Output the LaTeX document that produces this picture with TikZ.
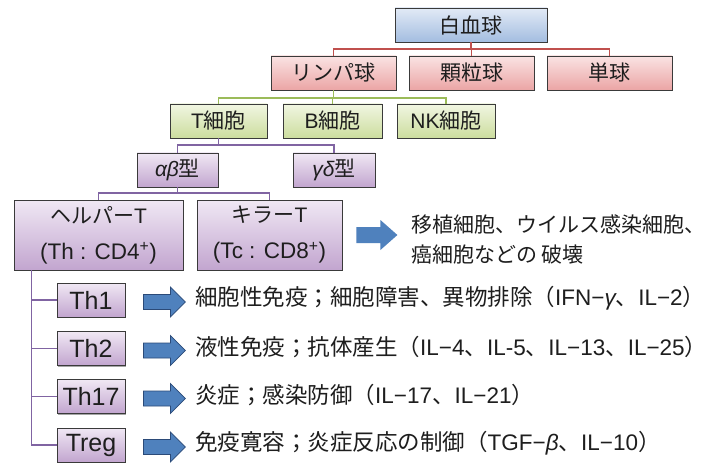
\documentclass[tikz,border=0pt]{standalone}
\usepackage{fontspec}
\setmainfont{Noto Sans CJK JP}
\newfontfamily\lat{Liberation Sans}
\newcommand\latx[1]{{\lat #1}}
\usetikzlibrary{shadows,calc}
\definecolor{boxline}{HTML}{3A3A3A}
\definecolor{txt}{HTML}{1E1E1E}
\definecolor{blueT}{HTML}{E2EAF6}
\definecolor{blueB}{HTML}{A3BDE0}
\definecolor{redT}{HTML}{FAE3E3}
\definecolor{redB}{HTML}{EBA5A5}
\definecolor{greenT}{HTML}{F1F6E2}
\definecolor{greenB}{HTML}{CCDD9E}
\definecolor{purT}{HTML}{F0E8F4}
\definecolor{purB}{HTML}{C2A5CF}
\definecolor{redL}{HTML}{C0504D}
\definecolor{greenL}{HTML}{9BBB59}
\definecolor{purL}{HTML}{8064A2}
\definecolor{arrB}{HTML}{4F81BD}
\definecolor{arrO}{HTML}{2B4A78}
\tikzset{
  box/.style={draw=boxline, line width=0.8pt, inner sep=0pt, minimum height=34pt,
    font=\fontsize{21}{25}\selectfont, text=txt,
    drop shadow={shadow xshift=1.3pt, shadow yshift=-1.3pt, opacity=0.35, fill=black}},
  bluebox/.style={box, top color=blueT, bottom color=blueB},
  redbox/.style={box, top color=redT, bottom color=redB, minimum width=125pt},
  greenbox/.style={box, top color=greenT, bottom color=greenB},
  purbox/.style={box, top color=purT, bottom color=purB},
  bigpur/.style={purbox, minimum height=70pt, align=center, font=\fontsize{21}{36}\selectfont},
  thbox/.style={purbox, minimum width=68pt, font=\lat\fontsize{25}{28}\selectfont},
  redline/.style={draw=redL, line width=1.6pt},
  greenline/.style={draw=greenL, line width=1.6pt},
  purline/.style={draw=purL, line width=1.6pt},
  desc/.style={anchor=west, inner sep=0pt, text=txt, font=\fontsize{22.5}{26}\selectfont},
  bigarr/.pic={\path[fill=arrB] (0,-8) -- (24,-8) -- (24,-15) -- (41,0) -- (24,15) -- (24,8) -- (0,8) -- cycle;},
  smallarr/.pic={\path[fill=arrB, draw=arrO, line width=0.7pt] (0,-7.5) -- (27,-7.5) -- (27,-15) -- (42,0) -- (27,15) -- (27,7.5) -- (0,7.5) -- cycle;}
}
\begin{document}
\begin{tikzpicture}[x=1pt,y=1pt]
\useasboundingbox[fill=white] (0,0) rectangle (719,-465);
% level coordinates
\coordinate (lvR) at (0,-49);
\coordinate (lvG) at (0,-98);
\coordinate (lvPa) at (0,-145);
\coordinate (lvPb) at (0,-193);
% boxes
\node[bluebox, minimum width=152pt] (wbc) at (471,-25) {白血球};
\node[redbox] (lym) at (333.5,-73) {リンパ球};
\node[redbox] (gran) at (471.5,-73) {顆粒球};
\node[redbox] (mono) at (609.5,-73) {単球};
\node[greenbox, minimum width=97pt] (tc) at (218.5,-121) {\latx{T}細胞};
\node[greenbox, minimum width=99pt] (bc) at (332.5,-121) {\latx{B}細胞};
\node[greenbox, minimum width=98pt] (nk) at (446,-121) {\latx{NK}細胞};
\node[purbox, minimum width=81pt] (ab) at (177.5,-170) {{\lat\itshape αβ}型};
\node[purbox, minimum width=82pt] (gd) at (334,-170) {{\lat\itshape γδ}型};
\node[bigpur, minimum width=169pt] (helper) at (98.5,-235) {ヘルパー\latx{T}\\{\lat\fontsize{22.5}{36}\selectfont (Th : CD4\textsuperscript{+})}};
\node[bigpur, minimum width=145pt] (killer) at (269.5,-235) {キラー\latx{T}\\{\lat\fontsize{22.5}{36}\selectfont (Tc : CD8\textsuperscript{+})}};
\node[thbox] (th1) at (91,-300) {Th1};
\node[thbox] (th2) at (91,-348.5) {Th2};
\node[thbox] (th17) at (91,-396.5) {Th17};
\node[thbox] (treg) at (91,-445) {Treg};
% connectors
\draw[redline] (wbc.south) -- (wbc.south |- lvR);
\draw[redline] (lym.north) |- (mono.north |- lvR) -- (mono.north);
\draw[redline] (gran.north) -- (gran.north |- lvR);
\draw[greenline] (lym.south) -- (lym.south |- lvG);
\draw[greenline] (tc.north) |- (nk.north |- lvG) -- (nk.north);
\draw[greenline] (bc.north) -- (bc.north |- lvG);
\draw[purline] (tc.south) -- (tc.south |- lvPa);
\draw[purline] (ab.north) |- (gd.north |- lvPa) -- (gd.north);
\draw[purline] (ab.south) -- (ab.south |- lvPb);
\draw[purline] (helper.north) |- (killer.north |- lvPb) -- (killer.north);
\coordinate (hv) at ($(helper.south west)+(18,0)$);
\draw[purline] (hv) |- (treg.west);
\draw[purline] (hv |- th1.west) -- (th1.west);
\draw[purline] (hv |- th2.west) -- (th2.west);
\draw[purline] (hv |- th17.west) -- (th17.west);
% arrows
\pic at ($(killer.east)+(14,0)$) {bigarr};
\pic at ($(th1.east)+(18,-2)$) {smallarr};
\pic at ($(th2.east)+(18,-2)$) {smallarr};
\pic at ($(th17.east)+(18,-2)$) {smallarr};
\pic at ($(treg.east)+(18,-2)$) {smallarr};
% texts
\node[desc, align=left, font=\fontsize{21}{30}\selectfont] (kt) at (411,-239) {移植細胞、ウイルス感染細胞、\\癌細胞などの 破壊};
\node[desc] (d1) at (195,-298) {細胞性免疫；細胞障害、異物排除（\latx{IFN−}{\lat\itshape γ}、\latx{IL−2}）};
\node[desc] (d2) at (195,-347) {液性免疫；抗体産生（\latx{IL−4}、\latx{IL-5}、\latx{IL−13}、\latx{IL−25}）};
\node[desc] (d3) at (195,-395) {炎症；感染防御（\latx{IL−17}、\latx{IL−21}）};
\node[desc] (d4) at (195,-443) {免疫寛容；炎症反応の制御（\latx{TGF−}{\lat\itshape β}、\latx{IL−10}）};
\end{tikzpicture}
\end{document}
